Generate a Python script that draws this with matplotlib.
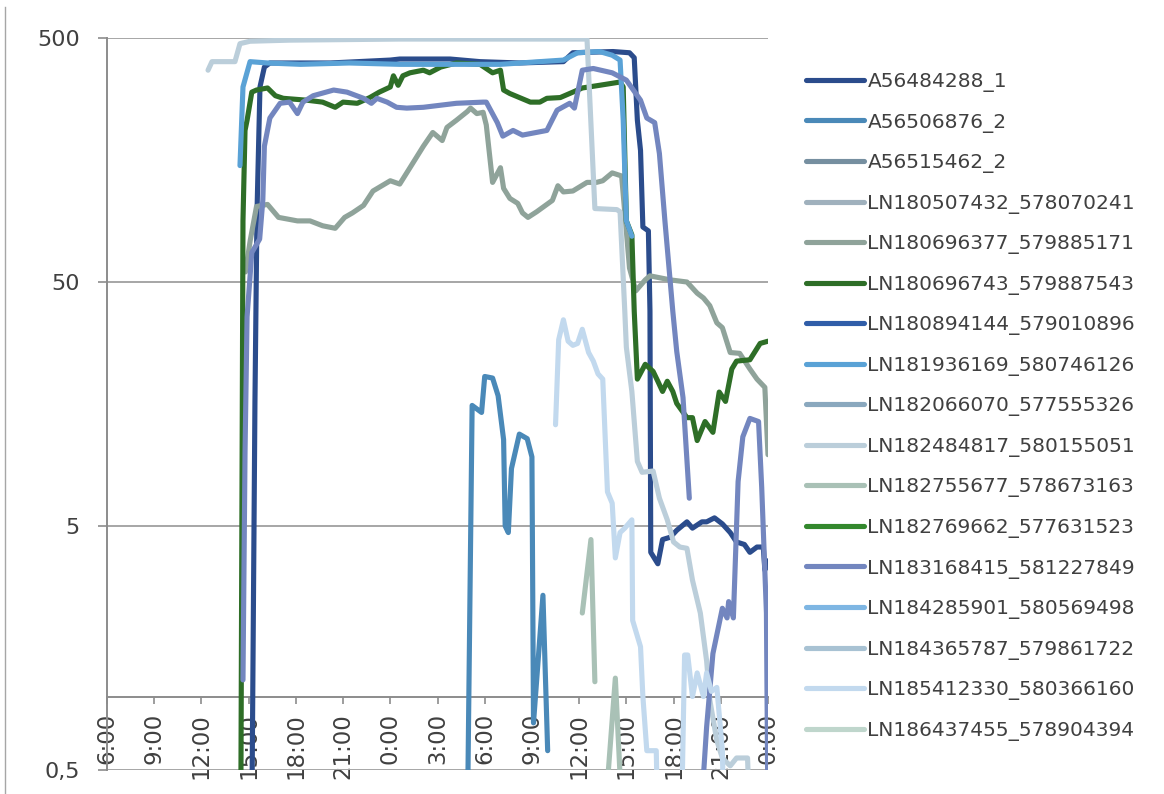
import matplotlib
matplotlib.use("Agg")
import matplotlib.pyplot as plt
import numpy as np
from matplotlib.lines import Line2D
from matplotlib.ticker import FixedLocator, FixedFormatter, NullLocator


SERIES_NAMES = [
    "A56484288_1",
    "A56506876_2",
    "A56515462_2",
    "LN180507432_578070241",
    "LN180696377_579885171",
    "LN180696743_579887543",
    "LN180894144_579010896",
    "LN181936169_580746126",
    "LN182066070_577555326",
    "LN182484817_580155051",
    "LN182755677_578673163",
    "LN182769662_577631523",
    "LN183168415_581227849",
    "LN184285901_580569498",
    "LN184365787_579861722",
    "LN185412330_580366160",
    "LN186437455_578904394",
]

SERIES_COLORS = [
    "#2B4C8C", "#4A89B8", "#768FA0", "#A0B1BD", "#8FA39A", "#2E6E27",
    "#305DA8", "#5AA2D6", "#8AA8BE", "#BBCEDA", "#A9C1B6", "#33882D",
    "#7386BF", "#7EB6E3", "#A8C2D3", "#C2D9EE", "#BFD6CC",
]

X_TICK_LABELS = [
    "6:00", "9:00", "12:00", "15:00", "18:00", "21:00", "0:00", "3:00",
    "6:00", "9:00", "12:00", "15:00", "18:00", "21:00", "0:00",
]
Y_TICKS = [0.5, 5, 50, 500]
Y_TICK_LABELS = ["0,5", "5", "50", "500"]

# hours counted from 06:00 on the first day, None breaks a trace
# values under 0,5 fall below the axis and get clipped
A56484288_1_HOURS = [9.2, 9.4, 9.53, 9.72, 10.0, 10.35, 14.2, 18.0, 18.6, 21.8,
                     23.7, 26.2, 29.0, 29.6, 32.15, 33.2, 33.5, 33.7, 33.9, 34.05,
                     34.4, 34.5, 34.55, 35.0, 35.3, 35.8, 36.2, 36.85, 37.2, 37.8,
                     38.1, 38.6, 39.1, 39.6, 40.0, 40.5, 40.85, 41.3, 41.7, 41.8, 42.0]
A56484288_1_VALUES = [0.3, 16, 96, 315, 380, 395, 395, 406, 410, 410,
                      400, 395, 400, 435, 440, 435, 415, 230, 173, 84,
                      81, 38, 3.9, 3.5, 4.4, 4.5, 4.8, 5.2, 4.9, 5.2,
                      5.2, 5.4, 5.1, 4.7, 4.3, 4.2, 3.9, 4.1, 4.1, 3.3, 3.6]

A56506876_2_HOURS = [22.9, 23.2, 23.8, 24.0, 24.5, 24.85, 25.2, 25.3, 25.5, 25.7,
                     26.2, 26.7, 27.0, 27.1, 27.7, 28.0]
A56506876_2_VALUES = [0.3, 15.6, 14.6, 20.5, 20.2, 17.1, 11.3, 5.0, 4.7, 8.6,
                      11.9, 11.4, 9.6, 0.78, 2.6, 0.6]

A56515462_2_HOURS = []
A56515462_2_VALUES = []

LN180507432_HOURS = []
LN180507432_VALUES = []

LN180696377_HOURS = [8.8, 9.1, 9.5, 10.2, 10.9, 12.1, 12.9, 13.7, 14.5, 15.1,
                     15.6, 16.3, 16.9, 18.0, 18.6, 19.25, 20.1, 20.7, 21.3, 21.6,
                     22.2, 22.9, 23.1, 23.5, 23.9, 24.1, 24.5, 25.0, 25.2, 25.6,
                     26.1, 26.4, 26.75, 27.3, 28.3, 28.65, 29.0, 29.6, 30.5, 31.1,
                     31.5, 32.1, 32.7, 33.2, 33.6, 34.2, 34.5, 35.8, 36.85, 37.5,
                     37.9, 38.3, 38.75, 39.1, 39.6, 40.2, 40.85, 41.3, 41.8, 42.0]
LN180696377_VALUES = [55, 74, 102, 104, 92, 89, 89, 85, 83, 92,
                      96, 103, 118, 130, 126, 147, 180, 205, 190, 215,
                      230, 250, 258, 245, 248, 220, 128, 147, 121, 110,
                      105, 96, 92, 97, 108, 124, 117, 118, 128, 128,
                      130, 140, 136, 57, 46, 51, 53, 51, 50, 45,
                      43, 40, 34, 32.5, 25.7, 25.5, 22, 20, 18.5, 9.8]

LN180696743_HOURS = [8.5, 8.64, 8.77, 8.9, 9.2, 9.5, 10.2, 10.7, 11.2, 12.1,
                     12.7, 13.7, 14.5, 15.0, 15.9, 16.7, 17.3, 18.0, 18.2, 18.5,
                     18.8, 19.25, 20.1, 20.5, 21.2, 22.2, 23.7, 24.5, 25.0, 25.2,
                     25.6, 26.9, 27.5, 27.95, 28.8, 29.6, 30.2, 31.3, 32.6, 32.8,
                     33.0, 33.35, 33.5, 33.7, 34.2, 34.7, 35.0, 35.3, 35.6, 35.95,
                     36.2, 36.85, 37.2, 37.5, 38.0, 38.5, 38.9, 39.3, 39.7, 40.0,
                     40.85, 41.5, 42.0]
LN180696743_VALUES = [0.3, 89, 209, 230, 300, 306, 312, 290, 283, 280,
                      278, 273, 260, 273, 270, 285, 300, 315, 350, 320,
                      350, 360, 369, 360, 380, 395, 390, 360, 369, 306,
                      296, 273, 273, 283, 285, 300, 312, 320, 330, 315,
                      89, 78, 38, 20, 23, 21.5, 19.6, 17.8, 19.6, 17.8,
                      15.9, 13.9, 13.9, 11.2, 13.4, 12.1, 17.7, 16.2, 22, 23.7,
                      24, 28, 28.6]

LN180894144_HOURS = []
LN180894144_VALUES = []

LN181936169_HOURS = [8.45, 8.64, 9.09, 10.2, 12.3, 15.4, 18.6, 21.8, 25.0, 27.5,
                     29.0, 29.9, 31.3, 32.1, 32.6, 32.8, 33.0, 33.35]
LN181936169_VALUES = [150, 315, 400, 395, 390, 395, 390, 390, 390, 400,
                      406, 435, 440, 425, 406, 230, 89, 77]

LN182066070_HOURS = []
LN182066070_VALUES = []

LN182484817_HOURS = [6.42, 6.67, 8.13, 8.45, 9.09, 11.6, 18.6, 30.5, 31.0, 32.4,
                     32.6, 32.9, 33.0, 33.35, 33.7, 34.0, 34.7, 35.1, 35.6, 36.0,
                     36.4, 36.85, 37.2, 37.7, 38.1, 38.3, 38.75, 39.1, 39.6, 40.0,
                     40.7, 40.85]
LN182484817_VALUES = [369, 400, 400, 474, 485, 490, 495, 495, 100, 99,
                      97, 38, 27, 17.8, 9.2, 8.3, 8.4, 6.5, 5.3, 4.3,
                      4.1, 4.05, 3.0, 2.2, 1.4, 0.97, 0.66, 0.56, 0.52, 0.56,
                      0.56, 0.3]

LN182755677_HOURS = [30.2, 30.75, 31.0, None, 31.6, 32.3, 32.75]
LN182755677_VALUES = [2.2, 4.4, 1.15, None, 0.3, 1.19, 0.3]

LN182769662_HOURS = []
LN182769662_VALUES = []

LN183168415_HOURS = [8.64, 8.77, 8.9, 9.2, 9.7, 9.9, 10.0, 10.35, 11.0, 11.6,
                     12.1, 12.45, 13.1, 14.4, 15.25, 16.3, 16.8, 17.15, 17.8, 18.4,
                     19.05, 20.1, 22.2, 23.9, 24.1, 24.8, 25.15, 25.8, 26.4, 27.95,
                     28.6, 29.4, 29.7, 30.2, 30.9, 32.1, 33.0, 33.9, 34.3, 34.8,
                     35.1, 35.45, 35.95, 36.2, 36.6, 37.0, None, 37.7, 38.1, 38.5,
                     39.1, 39.4, 39.5, 39.8, 40.1, 40.4, 40.85, 41.4, 41.6, 41.9, 42.0]
LN183168415_VALUES = [1.17, 10, 36, 66, 75, 108, 180, 235, 270, 273,
                      245, 273, 290, 306, 300, 283, 270, 283, 273, 260,
                      258, 260, 270, 273, 273, 225, 198, 209, 200, 209,
                      253, 270, 258, 369, 375, 360, 336, 278, 235, 225,
                      168, 89, 38, 26, 16.8, 6.5, None, 0.3, 0.75, 1.5,
                      2.3, 2.1, 2.45, 2.1, 7.6, 11.6, 13.8, 13.4, 7.2, 2.2, 0.3]

LN184285901_HOURS = []
LN184285901_VALUES = []

LN184365787_HOURS = []
LN184365787_VALUES = []

LN185412330_HOURS = [28.5, 28.7, 29.0, 29.3, 29.6, 29.9, 30.2, 30.6, 30.9, 31.2,
                     31.5, 31.8, 32.1, 32.3, 32.6, 32.9, 33.35, 33.4, 33.9, 34.05,
                     34.3, 34.9, 35.0, None, 36.5, 36.7, 36.9, 37.2, 37.5, 37.9,
                     38.1, 38.4, 38.75, 39.1, 39.2]
LN185412330_VALUES = [13, 29, 35, 28.6, 27.5, 28, 32, 25.7, 23.7, 21,
                      20, 6.9, 6.2, 3.7, 4.7, 4.9, 5.3, 2.05, 1.6, 1.0,
                      0.6, 0.6, 0.3, None, 0.3, 1.48, 1.48, 1.0, 1.25, 1.0,
                      1.25, 1.05, 1.09, 0.6, 0.3]

LN186437455_HOURS = []
LN186437455_VALUES = []


SERIES_DATA = [
    (A56484288_1_HOURS, A56484288_1_VALUES),
    (A56506876_2_HOURS, A56506876_2_VALUES),
    (A56515462_2_HOURS, A56515462_2_VALUES),
    (LN180507432_HOURS, LN180507432_VALUES),
    (LN180696377_HOURS, LN180696377_VALUES),
    (LN180696743_HOURS, LN180696743_VALUES),
    (LN180894144_HOURS, LN180894144_VALUES),
    (LN181936169_HOURS, LN181936169_VALUES),
    (LN182066070_HOURS, LN182066070_VALUES),
    (LN182484817_HOURS, LN182484817_VALUES),
    (LN182755677_HOURS, LN182755677_VALUES),
    (LN182769662_HOURS, LN182769662_VALUES),
    (LN183168415_HOURS, LN183168415_VALUES),
    (LN184285901_HOURS, LN184285901_VALUES),
    (LN184365787_HOURS, LN184365787_VALUES),
    (LN185412330_HOURS, LN185412330_VALUES),
    (LN186437455_HOURS, LN186437455_VALUES),
]

AXIS_GREY = "#A6A6A6"
TEXT_GREY = "#404040"


def to_array(values):
    """
    Turn a list with None gaps into a float array with NaN gaps.
    """
    return np.array([np.nan if v is None else v for v in values], dtype=float)


def main() -> None:
    plt.rcParams["font.family"] = ["DejaVu Sans"]
    plt.rcParams["font.size"] = 14

    fig = plt.figure(figsize=(11.64, 7.94), dpi=100)
    ax = fig.add_axes([107 / 1164, 24 / 794, 661 / 1164, 732 / 794])

    for name, color, (hours, values) in zip(SERIES_NAMES, SERIES_COLORS, SERIES_DATA):
        ax.plot(to_array(hours), to_array(values), color=color, lw=3.7,
                solid_capstyle="round", solid_joinstyle="round",
                label=name, zorder=3)

    ax.set_yscale("log")
    ax.set_ylim(0.5, 500)
    ax.set_xlim(0, 42)

    for side in ["top", "right"]:
        ax.spines[side].set_visible(False)
    ax.spines["left"].set_color("#8C8C8C")
    ax.spines["left"].set_linewidth(1.4)
    # the category axis crosses the value axis at 1
    ax.spines["bottom"].set_position(("data", 1))
    ax.spines["bottom"].set_color("#8C8C8C")
    ax.spines["bottom"].set_linewidth(1.4)

    ax.yaxis.set_major_locator(FixedLocator(Y_TICKS))
    ax.yaxis.set_major_formatter(FixedFormatter(Y_TICK_LABELS))
    ax.yaxis.set_minor_locator(NullLocator())
    ax.set_xticks(np.arange(0, 43, 3))
    ax.set_xticklabels(X_TICK_LABELS)

    ax.yaxis.grid(True, color=AXIS_GREY, lw=1.4)
    ax.set_axisbelow(True)

    ax.tick_params(axis="y", length=6.5, width=1.2, color="#8C8C8C",
                   pad=13, labelcolor=TEXT_GREY, labelsize=16)
    ax.tick_params(axis="x", length=5, width=1.2, color="#8C8C8C",
                   pad=7, labelcolor=TEXT_GREY, labelsize=16.5)
    for label in ax.get_xticklabels():
        label.set_rotation(90)
        label.set_verticalalignment("top")
        label.set_horizontalalignment("center")

    fig.legend(loc="upper left", bbox_to_anchor=(806 / 1164, 1 - 72 / 794),
               frameon=False, fontsize=14.5, handlelength=2.9, handletextpad=0.15,
               labelspacing=1.02, borderpad=0, borderaxespad=0,
               labelcolor=TEXT_GREY)

    fig.add_artist(Line2D([5 / 1164, 5 / 1164], [0, 1 - 7 / 794],
                          transform=fig.transFigure, color=AXIS_GREY, lw=1))

    fig.savefig("out.png", dpi=100)


if __name__ == "__main__":
    main()
